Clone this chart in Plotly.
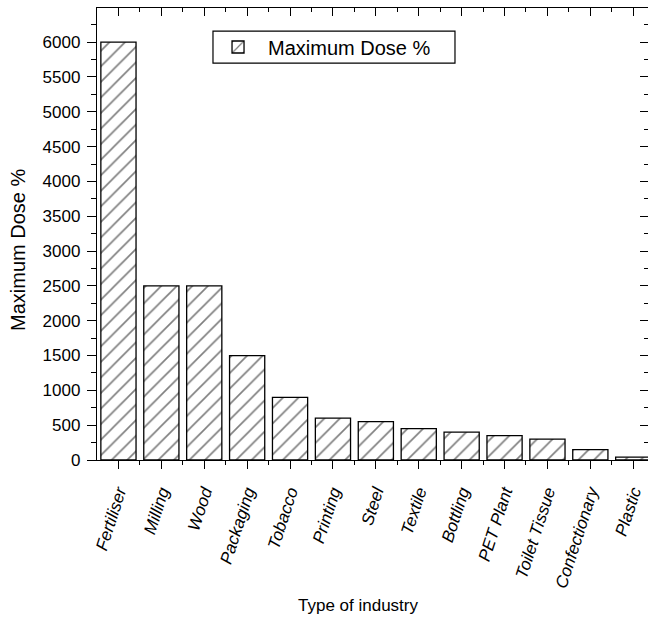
import plotly.graph_objects as go

# Maximum dose (%) by type of industry
industries = ["Fertiliser", "Milling", "Wood", "Packaging", "Tobacco", "Printing",
              "Steel", "Textile", "Bottling", "PET Plant", "Toilet Tissue",
              "Confectionary", "Plastic"]
max_dose = [6000, 2500, 2500, 1500, 900, 600, 550, 450, 400, 350, 300, 150, 40]
y_ticks = list(range(0, 6001, 500))

positions = list(range(len(industries)))
boundaries = [p + 0.5 for p in positions]
FONT = "Liberation Sans, Arial, sans-serif"

fig = go.Figure()
fig.add_trace(go.Bar(
    x=positions, y=max_dose, name="Maximum Dose %", width=0.82,
    marker=dict(color="white", line=dict(color="black", width=1.3),
                pattern=dict(shape="/", fgcolor="black", bgcolor="white",
                             size=11, solidity=0.15)),
))
# empty trace so the top/right frame axes are drawn
fig.add_trace(go.Scatter(x=[None], y=[None], xaxis="x2", yaxis="y2",
                         showlegend=False, hoverinfo="skip"))

xr = [-0.5, 12.344]
yr = [0, 6490]

fig.update_layout(
    width=648, height=618,
    margin=dict(l=97, r=0, t=8, b=158, autoexpand=False),
    paper_bgcolor="white", plot_bgcolor="white",
    font=dict(family=FONT, color="black", size=17),
    showlegend=True,
    legend=dict(x=0.2015, y=0.9137, xanchor="left", yanchor="middle",
                borderwidth=0, bgcolor="rgba(0,0,0,0)",
                itemwidth=50, font=dict(size=20, family=FONT)),
    xaxis=dict(
        range=xr, tickmode="array", tickvals=positions, automargin=False,
        ticktext=[f"<i>{c}</i>" for c in industries],
        tickangle=-72, ticks="outside", ticklen=8, tickwidth=1.3, tickcolor="black",
        ticklabelstandoff=6,
        showline=True, linecolor="black", linewidth=1.3, showgrid=False, zeroline=False,
        minor=dict(tickmode="array", tickvals=boundaries, ticks="outside",
                   ticklen=4, tickwidth=1.3, tickcolor="black", showgrid=False),
        tickfont=dict(size=17, family=FONT),
    ),
    yaxis=dict(
        range=yr, tickmode="array", tickvals=y_ticks, automargin=False,
        ticks="outside", ticklen=9, tickwidth=1.3, tickcolor="black",
        ticklabelstandoff=3,
        showline=True, linecolor="black", linewidth=1.3, showgrid=False, zeroline=False,
        minor=dict(dtick=250, tick0=0, ticks="outside", ticklen=5, tickwidth=1.3,
                   tickcolor="black", showgrid=False),
        tickfont=dict(size=17, family=FONT),
    ),
    xaxis2=dict(
        range=xr, overlaying="x", side="top", tickmode="array", tickvals=positions,
        showticklabels=False, ticks="inside", ticklen=8, tickwidth=1.3, tickcolor="black",
        showline=True, linecolor="black", linewidth=1.3, showgrid=False, zeroline=False,
        automargin=False,
        minor=dict(tickmode="array", tickvals=boundaries, ticks="inside",
                   ticklen=4, tickwidth=1.3, tickcolor="black", showgrid=False),
    ),
    yaxis2=dict(
        range=yr, overlaying="y", side="right", tickmode="array", tickvals=y_ticks,
        showticklabels=False, ticks="inside", ticklen=8, tickwidth=1.3, tickcolor="black",
        showline=False, showgrid=False, zeroline=False, automargin=False,
        minor=dict(dtick=250, tick0=0, ticks="inside", ticklen=4, tickwidth=1.3,
                   tickcolor="black", showgrid=False),
    ),
    shapes=[
        # legend frame
        dict(type="rect", xref="paper", yref="paper",
             x0=0.2105, x1=0.6497, y0=0.878, y1=0.949,
             line=dict(color="black", width=1.2), fillcolor="rgba(0,0,0,0)"),
    ],
    annotations=[
        dict(text="Maximum Dose %", xref="paper", yref="paper", x=-0.1434, y=0.4646,
             xanchor="center", yanchor="middle", textangle=-90, showarrow=False,
             font=dict(size=20, family=FONT)),
        dict(text="Type of industry", xref="paper", yref="paper", x=0.475, y=-0.321,
             xanchor="center", yanchor="middle", showarrow=False,
             font=dict(size=17, family=FONT)),
    ],
)

fig.write_html("out.html")
